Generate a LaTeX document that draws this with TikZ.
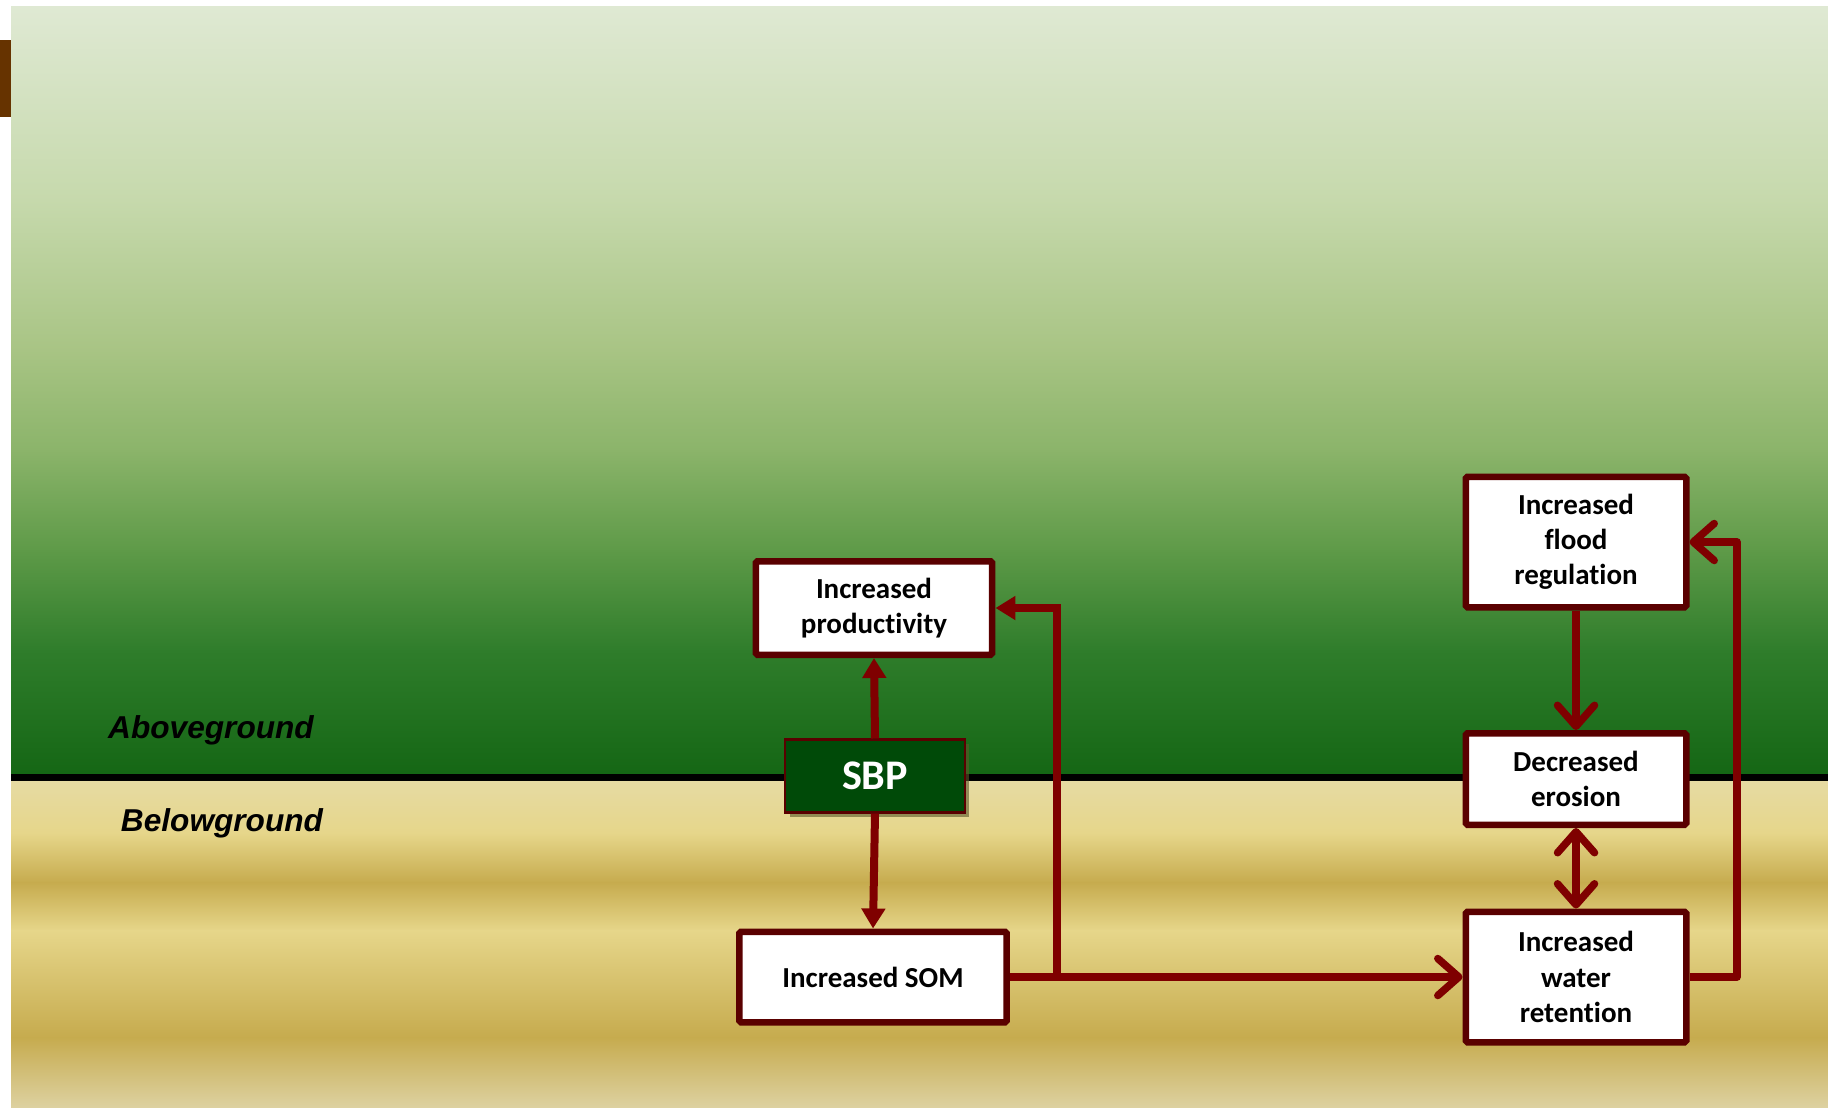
\documentclass[tikz,border=0pt]{standalone}
\usepackage{fontspec}
\setmainfont{Carlito}[Ligatures=NoCommon]
\newfontfamily\groundfont{Liberation Sans}
\usetikzlibrary{arrows.meta,positioning,shadows}

\definecolor{boxred}{HTML}{5A0000}
\definecolor{arrred}{HTML}{7F0000}
\definecolor{sbpgreen}{HTML}{004A08}
\definecolor{tabbrown}{HTML}{663300}
\definecolor{gA}{HTML}{DFE9D3}
\definecolor{gB}{HTML}{C6D9AC}
\definecolor{gC}{HTML}{A8C484}
\definecolor{gD}{HTML}{8BB46A}
\definecolor{gE}{HTML}{5E9A48}
\definecolor{gF}{HTML}{2F7D2B}
\definecolor{gG}{HTML}{146614}
\definecolor{sA}{HTML}{E6DBA5}
\definecolor{sB}{HTML}{E6D68A}
\definecolor{sC}{HTML}{C6AB4E}
\definecolor{sD}{HTML}{DDD1A0}

\begin{document}
\begin{tikzpicture}[
  x=0.02cm, y=-0.02cm,
  otip/.tip={Straight Barb[round, length=0.42cm, width=0.74cm]},
  box/.style={draw=boxred, line width=0.13cm, fill=white, rounded corners=1pt,
              align=center, inner sep=2pt,
              font=\bfseries\fontsize{16.5}{20}\selectfont},
  core/.style={draw=boxred, line width=1.2pt, fill=sbpgreen, text=white,
               font=\bfseries\fontsize{24}{28}\selectfont,
               minimum width=3.6cm, minimum height=1.46cm,
               drop shadow={shadow xshift=0.09cm, shadow yshift=-0.09cm,
                            fill=black!45!olive, opacity=0.6}},
  arr/.style={-{Triangle[length=0.4cm, width=0.46cm]}, line width=0.16cm, draw=arrred},
  oarr/.style={-otip, line width=0.15cm, draw=arrred, line join=round},
  lab/.style={font=\groundfont\bfseries\itshape\fontsize{18}{22}\selectfont}
]
\useasboundingbox (0,0) rectangle (1828,1107);

% ================= Background =================
\fill[tabbrown] (0,40) rectangle (12,117);
\shade[top color=gA, bottom color=gB] (11,6) rectangle (1828,201);
\shade[top color=gB, bottom color=gC] (11,200) rectangle (1828,351);
\shade[top color=gC, bottom color=gD] (11,350) rectangle (1828,451);
\shade[top color=gD, bottom color=gE] (11,450) rectangle (1828,551);
\shade[top color=gE, bottom color=gF] (11,550) rectangle (1828,651);
\shade[top color=gF, bottom color=gG] (11,650) rectangle (1828,778);
\shade[top color=sA, bottom color=sB] (11,776) rectangle (1828,834);
\shade[top color=sB, bottom color=sC] (11,833) rectangle (1828,883);
\shade[top color=sC, bottom color=sB] (11,882) rectangle (1828,931);
\shade[top color=sB, bottom color=sC] (11,930) rectangle (1828,1038);
\shade[top color=sC, bottom color=sD] (11,1037) rectangle (1828,1107);
\draw[line width=0.14cm] (11,777) -- (1828,777);

\node[lab] (above) at (211,730) {Aboveground};
\node[lab] (below) at (222,823) {Belowground};

% ================= Nodes =================
\node[core] (sbp) at (875,776) {SBP};
\node[box, minimum width=4.73cm, minimum height=1.87cm] (prod) at (874,608)
  {Increased\\ productivity};
\node[box, minimum width=5.35cm, minimum height=1.81cm] (som) at (873,977)
  {Increased SOM};
\node[box, minimum width=4.41cm, minimum height=2.61cm] (flood) at (1576,542)
  {Increased\\ flood\\ regulation};
\node[box, minimum width=4.41cm, minimum height=1.83cm] (ero) at (1576,779)
  {Decreased\\ erosion};
\node[box, minimum width=4.41cm, minimum height=2.61cm] (ret) at (1576,977)
  {Increased\\ water\\ retention};

\coordinate (lbend) at (1057,0);
\coordinate (rbend) at (1737,0);

% ================= Connectors =================
\draw[arr] (sbp.north) -- (prod.south);
\draw[arr] (sbp.south) -- (som.north);
\draw[arr] (som.east) -- (som.east -| lbend) |- (prod.east);
\draw[oarr] (som.east) -- (ret.west);
\draw[oarr] (ret.east) -- (ret.east -| rbend) |- (flood.east);
\draw[oarr] (flood.south) -- (ero.north);
\draw[oarr, otip-otip] (ero.south) -- (ret.north);

\end{tikzpicture}
\end{document}
